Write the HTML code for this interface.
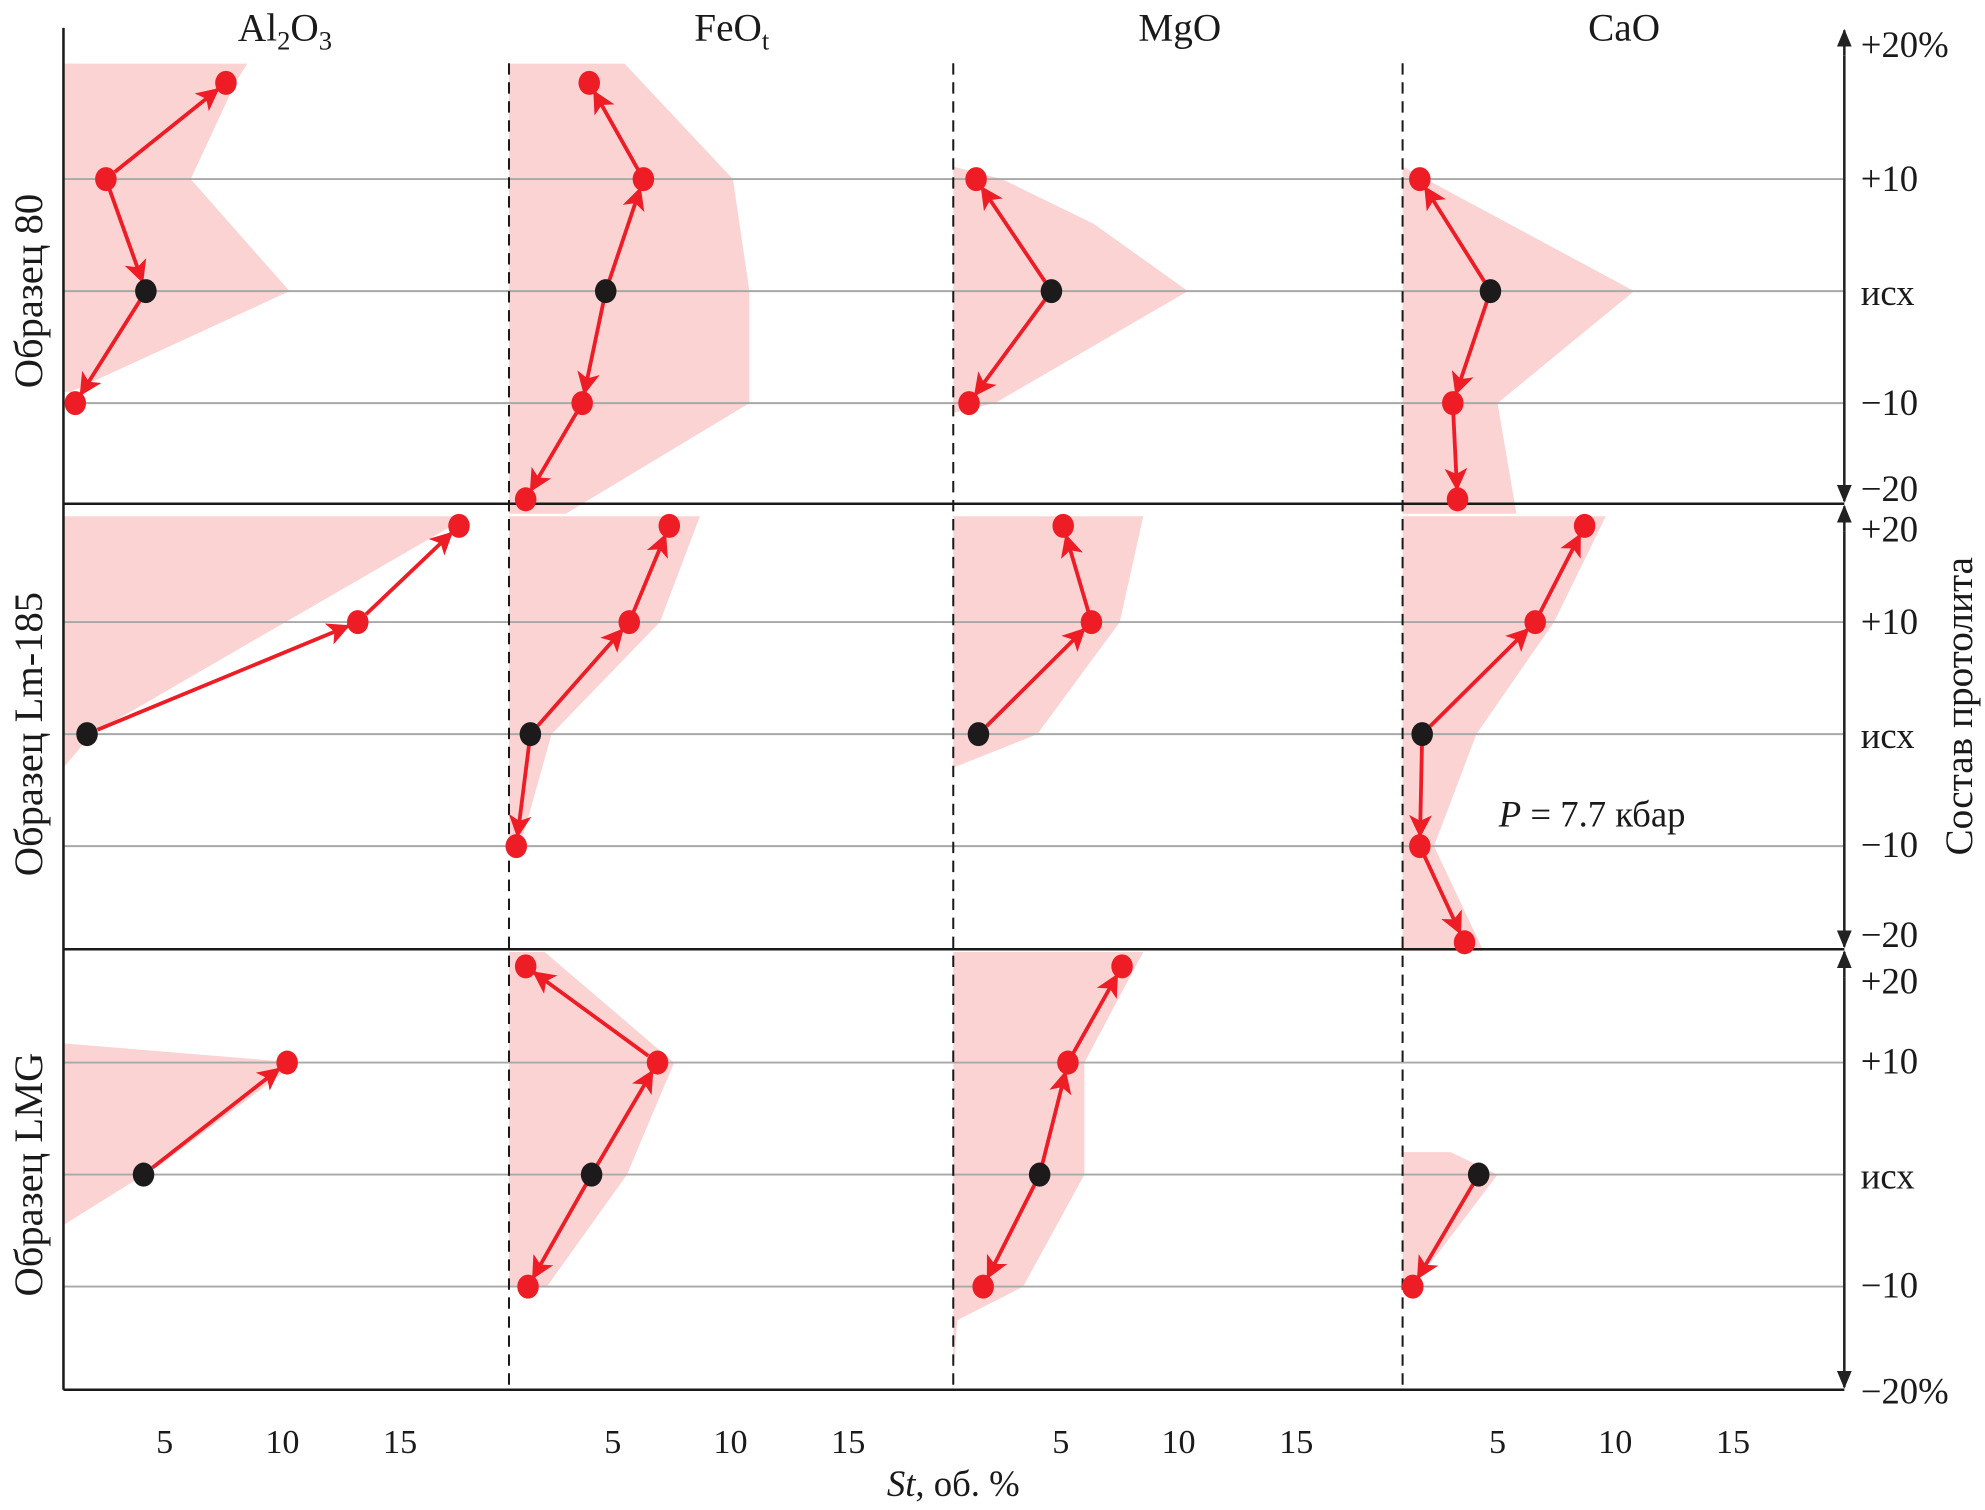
<!DOCTYPE html>
<html><head><meta charset="utf-8">
<style>
html,body{margin:0;padding:0;background:#fff;}
svg{display:block;}
text{font-family:"Liberation Serif","DejaVu Serif",serif;fill:#1a1a1a;}
</style></head>
<body>
<svg id="chart" width="1985" height="1510" viewBox="0 0 1568 1193">
<defs>
<marker id="ah" viewBox="0 0 12 12" refX="11" refY="6" markerWidth="6" markerHeight="6" orient="auto" markerUnits="strokeWidth">
<path d="M0,0 L12,6 L0,12 L3,6 z" fill="#ee1c25"/>
</marker>
<marker id="ak" viewBox="0 0 12 12" refX="11" refY="6" markerWidth="7" markerHeight="7" orient="auto" markerUnits="strokeWidth">
<path d="M0,1 L12,6 L0,11 z" fill="#222"/>
</marker>
</defs>
<g id="bands"></g>
<g id="grid"></g>
<g id="axes"></g>
<g id="series"></g>
<g id="labels"></g>
</svg>
<script>
// ---- data ----
const columns = ["Al2O3","FeOt","MgO","CaO"];
const rows = ["Образец 80","Образец Lm-185","Образец LMG"];
const xTicks = [5,10,15];
const levelLabels = ["+20","+10","исх","−10","−20"];
const levels = [20,10,0,-10,-20];
// points: [level, St value, isOriginal]
const points = [
 [ [[20,7.6],[10,2.5],[0,4.2,1],[-10,1.2]],
   [[20,4.0],[10,6.3],[0,4.7,1],[-10,3.7],[-20,1.3]],
   [[10,1.4],[0,4.6,1],[-10,1.1]],
   [[10,1.7],[0,4.7,1],[-10,3.1],[-20,3.3]] ],
 [ [[20,17.5],[10,13.2],[0,1.7,1]],
   [[20,7.4],[10,5.7],[0,1.5,1],[-10,0.9]],
   [[20,5.1],[10,6.3],[0,1.5,1]],
   [[20,8.7],[10,6.6],[0,1.8,1],[-10,1.7],[-20,3.6]] ],
 [ [[10,10.2],[0,4.1,1]],
   [[20,1.3],[10,6.9],[0,4.1,1],[-10,1.4]],
   [[20,7.6],[10,5.3],[0,4.1,1],[-10,1.7]],
   [[0,4.2,1],[-10,1.4]] ]
];
// arrows: [fromLevel, toLevel]
const arrows = [
 [ [[10,20],[10,0],[0,-10]], [[0,10],[10,20],[0,-10],[-10,-20]], [[0,10],[0,-10]], [[0,10],[0,-10],[-10,-20]] ],
 [ [[10,20],[0,10]], [[10,20],[0,10],[0,-10]], [[10,20],[0,10]], [[10,20],[0,10],[0,-10],[-10,-20]] ],
 [ [[0,10]], [[10,20],[0,10],[0,-10]], [[10,20],[0,10],[0,-10]], [[0,-10]] ]
];
// shaded range envelopes: [level, St value] (right edge); 0 = zero line
const bands = [
 [ [[22,0],[22,8.5],[20,8.0],[10,6.1],[0,10.3],[-9,1],[-9,0]],
   [[22,0],[22,5.5],[10,10.1],[0,10.8],[-10,10.8],[-21.5,3.0],[-21.5,0]],
   [[11.3,0],[10,2.5],[6,6.4],[0,10.4],[-10,2.2],[-11,0]],
   [[11.3,0],[0,10.8],[-10,5.0],[-21.5,5.8],[-21.5,0]] ],
 [ [[21,0],[21,17.9],[0,1.9],[-3,0]],
   [[21,0],[21,8.7],[10,7.0],[0,2.4],[-9,1.2],[-10,0]],
   [[21,0],[21,8.5],[10,7.5],[0,4.0],[-3,0]],
   [[21,0],[21,9.6],[10,7.4],[0,4.1],[-10,2.3],[-20.9,4.4],[-20.9,0]] ],
 [ [[12,0],[10,10.6],[1,4.9],[-4.5,0]],
   [[21.5,0],[21.5,2.1],[10,7.6],[0,5.6],[-10,2.2],[-10,0]],
   [[21.5,0],[21.5,8.5],[10,6.0],[0,6.0],[-10,3.4],[-13.5,0.6],[-19,0]],
   [[2,0],[2,3.0],[0,5.0],[-7.5,2.3],[-10.5,0]] ]
];

// ---- scales ----
const colOrigin = [37,391,745,1090];
const colLine = [50,402,753,1108];
const unit = 18.6;
const rowCenter = [230,580,928];
const rowTop = [22,398,750], rowBot=[398,750,1098];
const xRight = 1457;
function xOf(c,v){return colOrigin[c]+v*unit;}
function yOf(r,l){
  const a=Math.abs(l), s=l>=0?-1:1;
  const d = a<=10 ? a*8.85 : 88.5+(a-10)*7.6;
  return rowCenter[r]+s*d;
}
const NS="http://www.w3.org/2000/svg";
function mk(tag,attrs,parent){const e=document.createElementNS(NS,tag);for(const k in attrs)e.setAttribute(k,attrs[k]);parent.appendChild(e);return e;}
const gB=document.getElementById('bands'),gG=document.getElementById('grid'),gA=document.getElementById('axes'),gS=document.getElementById('series'),gL=document.getElementById('labels');

for(let r=0;r<3;r++)for(let c=0;c<4;c++){
  const pts=bands[r][c].map(p=>{const x=p[1]===0?colLine[c]:xOf(c,p[1]);return x.toFixed(1)+','+yOf(r,p[0]).toFixed(1);}).join(' ');
  const e=mk('polygon',{points:pts,fill:'#fbd3d3'},gB);
  
  
}
for(let r=0;r<3;r++)for(const l of [10,0,-10]){
  const y=yOf(r,l);
  const e=mk('line',{x1:50,x2:xRight,y1:y,y2:y,stroke:'#a8a8a8','stroke-width':1.5},gG);
  
  
}
let e=mk('line',{x1:50,x2:50,y1:22,y2:1098,stroke:'#1a1a1a','stroke-width':2},gA);

e=mk('line',{x1:50,x2:xRight,y1:1098,y2:1098,stroke:'#1a1a1a','stroke-width':2},gA);

for(const y of [398,750]){
  e=mk('line',{x1:50,x2:xRight,y1:y,y2:y,stroke:'#1a1a1a','stroke-width':2},gA);
  
}
for(let c=1;c<4;c++){
  e=mk('line',{x1:colLine[c],x2:colLine[c],y1:50,y2:1098,stroke:'#1a1a1a','stroke-width':1.6,'stroke-dasharray':'9,6'},gA);
  
}
for(let r=0;r<3;r++){
  e=mk('line',{x1:xRight,x2:xRight,y1:rowTop[r]+22,y2:rowBot[r]-2,stroke:'#222','stroke-width':2,'marker-end':'url(#ak)'},gA);
  
  e=mk('line',{x1:xRight,x2:xRight,y1:rowTop[r]+22,y2:rowTop[r]+2,stroke:'#222','stroke-width':2,'marker-end':'url(#ak)'},gA);
  
}
for(let r=0;r<3;r++)for(let c=0;c<4;c++){
  const pm={};points[r][c].forEach(p=>pm[p[0]]=p);
  for(const a of arrows[r][c]){
    const p0=pm[a[0]],p1=pm[a[1]];
    const x0=xOf(c,p0[1]),y0=yOf(r,p0[0]),x1=xOf(c,p1[1]),y1=yOf(r,p1[0]);
    const dx=x1-x0,dy=y1-y0,L=Math.hypot(dx,dy);
    const s0=9/L,s1=8/L;
    const ln=mk('line',{x1:x0+dx*s0,y1:y0+dy*s0,x2:x1-dx*s1,y2:y1-dy*s1,stroke:'#ee1c25','stroke-width':3,'marker-end':'url(#ah)'},gS);
    
    
  }
  for(const p of points[r][c]){
    const d=mk('ellipse',{cx:xOf(c,p[1]),cy:yOf(r,p[0]),rx:8.5,ry:9.5,fill:p[2]?'#1c1a1a':'#ee1c25'},gS);
    
    
  }
}
function txt(s,attrs,name){const t=mk('text',attrs,gL);t.textContent=s;return t;}
const colX=[225,578,932,1283];
const titles=[['Al','2','O','3'],['FeO','t'],['MgO'],['CaO']];
for(let c=0;c<4;c++){
  const t=mk('text',{x:colX[c],y:32,'font-size':31,'text-anchor':'middle'},gL);
  
  titles[c].forEach((s,i)=>{const sp=mk('tspan',{},t);sp.textContent=s;if(i%2==1){sp.setAttribute('font-size',21);sp.setAttribute('dy',7);}else if(i>0){sp.setAttribute('dy',-7);}});
  for(const v of xTicks) txt(String(v),{x:xOf(c,v),y:1148,'font-size':27,'text-anchor':'middle'},'x-tick-label');
}
const rowLvlLabels=[["+20%","+10","исх","−10","−20"],levelLabels,["+20","+10","исх","−10","−20%"]];
const lvlY=[[35,141,231,318,386],[418,491,581,667,738],[775,838,929,1015,1099]];
for(let r=0;r<3;r++){
  for(let i=0;i<5;i++) txt(rowLvlLabels[r][i],{x:1470,y:lvlY[r][i]+10,'font-size':29},'y-tick-label');
  txt(rows[r],{x:0,y:0,'font-size':32,'text-anchor':'middle',transform:`translate(33,${rowCenter[r]}) rotate(-90)`},'row-label');
}
txt('Состав протолита',{x:0,y:0,'font-size':31,'text-anchor':'middle',transform:'translate(1558,558) rotate(-90)'},'y-axis-title');
const xt=mk('text',{x:753,y:1182,'font-size':29,'text-anchor':'middle'},gL);

const i1=mk('tspan',{'font-style':'italic'},xt);i1.textContent='St';
const i2=mk('tspan',{},xt);i2.textContent=', об. %';
const pt=mk('text',{x:1184,y:653,'font-size':29},gL);

const p1=mk('tspan',{'font-style':'italic'},pt);p1.textContent='P';
const p2=mk('tspan',{},pt);p2.textContent=' = 7.7 кбар';
</script>
</body></html>
